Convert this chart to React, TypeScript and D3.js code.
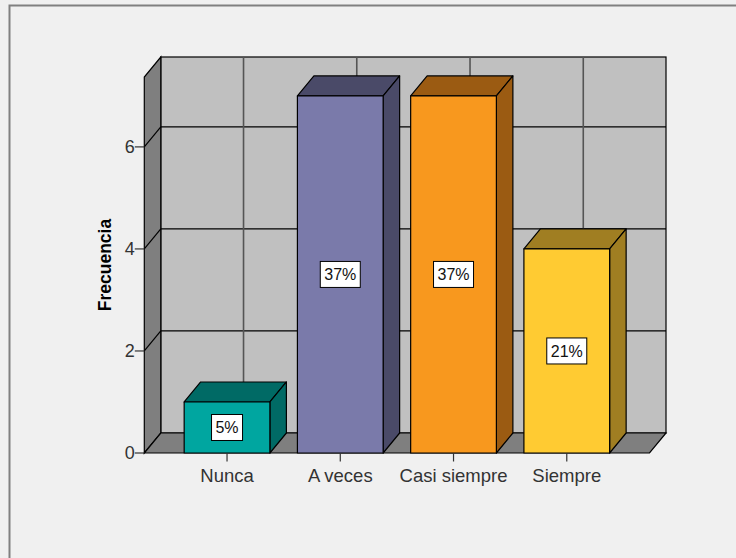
import React from "react";
import * as d3 from "d3";

// Frequencies per answer
const categories = ["Nunca", "A veces", "Casi siempre", "Siempre"];
const counts = [1, 7, 7, 4];
const percentLabels = ["5%", "37%", "37%", "21%"];
const frontColors = ["#00a6a0", "#7a7aaa", "#f8981e", "#ffcb32"];
const shadeColors = ["#006a65", "#4a4a68", "#9b5b12", "#a07e22"];
const yTicks = [0, 2, 4, 6];
const yMax = 7.37;

const W = 736;
const H = 558;
const FONT = "'Liberation Sans', Arial, sans-serif";

// plot geometry (front plane) and 3D depth offset
const left = 144.3;
const right = 649.5;
const bottom = 453;
const top = 77;
const DX = 16.5;
const DY = 20;

export default function App() {
  const x = d3
    .scaleBand<string>()
    .domain(categories)
    .range([left, right])
    .paddingInner(0.243)
    .paddingOuter(0.352);
  const y = d3.scaleLinear().domain([0, yMax]).range([bottom, top]);

  const pts = (p: [number, number][]) => p.map((q) => q.join(",")).join(" ");

  return (
    <svg
      width={W}
      height={H}
      style={{ position: "fixed", left: 0, top: 0, display: "block", background: "#f0f0f0" }}
    >
      <rect x={0} y={0} width={W} height={H} fill="#f0f0f0" />
      {/* outer frame: only its top and left edges fall inside the view */}
      <path d={`M9.5,${H} V5.5 H${W}`} fill="none" stroke="#808080" strokeWidth={2} />

      {/* back wall */}
      <rect
        x={left + DX}
        y={top - DY}
        width={right - left}
        height={bottom - top}
        fill="#c0c0c0"
        stroke="#000"
        strokeWidth={1.2}
      />
      {/* horizontal gridlines on back wall */}
      {yTicks
        .filter((t) => t > 0)
        .map((t) => (
          <line
            key={"hg" + t}
            x1={left + DX}
            x2={right + DX}
            y1={y(t) - DY}
            y2={y(t) - DY}
            stroke="#000"
            strokeWidth={1.2}
          />
        ))}
      {/* vertical gridlines on back wall */}
      {categories.map((c) => (
        <line
          key={"vg" + c}
          x1={(x(c) as number) + x.bandwidth() / 2 + DX}
          x2={(x(c) as number) + x.bandwidth() / 2 + DX}
          y1={top - DY}
          y2={bottom - DY}
          stroke="#555"
          strokeWidth={1.6}
        />
      ))}

      {/* left side wall */}
      <polygon
        points={pts([
          [left, bottom],
          [left, top],
          [left + DX, top - DY],
          [left + DX, bottom - DY],
        ])}
        fill="#7f7f7f"
        stroke="#000"
        strokeWidth={1.2}
      />
      {yTicks
        .filter((t) => t > 0)
        .map((t) => (
          <line
            key={"sg" + t}
            x1={left}
            y1={y(t)}
            x2={left + DX}
            y2={y(t) - DY}
            stroke="#000"
            strokeWidth={1.2}
          />
        ))}

      {/* floor */}
      <polygon
        points={pts([
          [left, bottom],
          [right, bottom],
          [right + DX, bottom - DY],
          [left + DX, bottom - DY],
        ])}
        fill="#7f7f7f"
        stroke="#000"
        strokeWidth={1.2}
      />

      {/* bars */}
      {categories.map((c, i) => {
        const x0 = x(c) as number;
        const x1 = x0 + x.bandwidth();
        const yt = y(counts[i]);
        return (
          <g key={"bar" + c} stroke="#000" strokeWidth={1.2} strokeLinejoin="round">
            <polygon
              points={pts([
                [x0, yt],
                [x0 + DX, yt - DY],
                [x1 + DX, yt - DY],
                [x1, yt],
              ])}
              fill={shadeColors[i]}
            />
            <polygon
              points={pts([
                [x1, yt],
                [x1 + DX, yt - DY],
                [x1 + DX, bottom - DY],
                [x1, bottom],
              ])}
              fill={shadeColors[i]}
            />
            <rect x={x0} y={yt} width={x1 - x0} height={bottom - yt} fill={frontColors[i]} />
          </g>
        );
      })}

      {/* value labels */}
      {categories.map((c, i) => {
        const cx = (x(c) as number) + x.bandwidth() / 2;
        const cy = (y(counts[i]) + bottom) / 2;
        const w = percentLabels[i].length === 2 ? 31 : 40;
        return (
          <g key={"lbl" + c}>
            <rect x={cx - w / 2} y={cy - 13} width={w} height={26} fill="#fff" stroke="#000" strokeWidth={1} />
            <text
              x={cx}
              y={cy}
              dy="0.36em"
              textAnchor="middle"
              fontFamily={FONT}
              fontSize={16}
              fill="#111"
            >
              {percentLabels[i]}
            </text>
          </g>
        );
      })}

      {/* y axis ticks and labels */}
      {yTicks.map((t) => (
        <g key={"yt" + t}>
          <line x1={left - 9.5} x2={left} y1={y(t)} y2={y(t)} stroke="#333" strokeWidth={1.2} />
          <text
            x={left - 9.5}
            y={y(t)}
            dy="0.36em"
            textAnchor="end"
            fontFamily={FONT}
            fontSize={18}
            fill="#333"
          >
            {t}
          </text>
        </g>
      ))}

      {/* x axis ticks and labels */}
      {categories.map((c) => {
        const cx = (x(c) as number) + x.bandwidth() / 2;
        return (
          <g key={"xt" + c}>
            <line x1={cx} x2={cx} y1={bottom} y2={bottom + 8.5} stroke="#333" strokeWidth={1.2} />
            <text x={cx} y={482} textAnchor="middle" fontFamily={FONT} fontSize={18.5} fill="#333">
              {c}
            </text>
          </g>
        );
      })}

      {/* y axis title */}
      <text
        transform={`translate(${110.5},${(top + bottom) / 2}) rotate(-90)`}
        textAnchor="middle"
        fontFamily={FONT}
        fontSize={17.5}
        fontWeight="bold"
        fill="#000"
      >
        Frecuencia
      </text>
    </svg>
  );
}
